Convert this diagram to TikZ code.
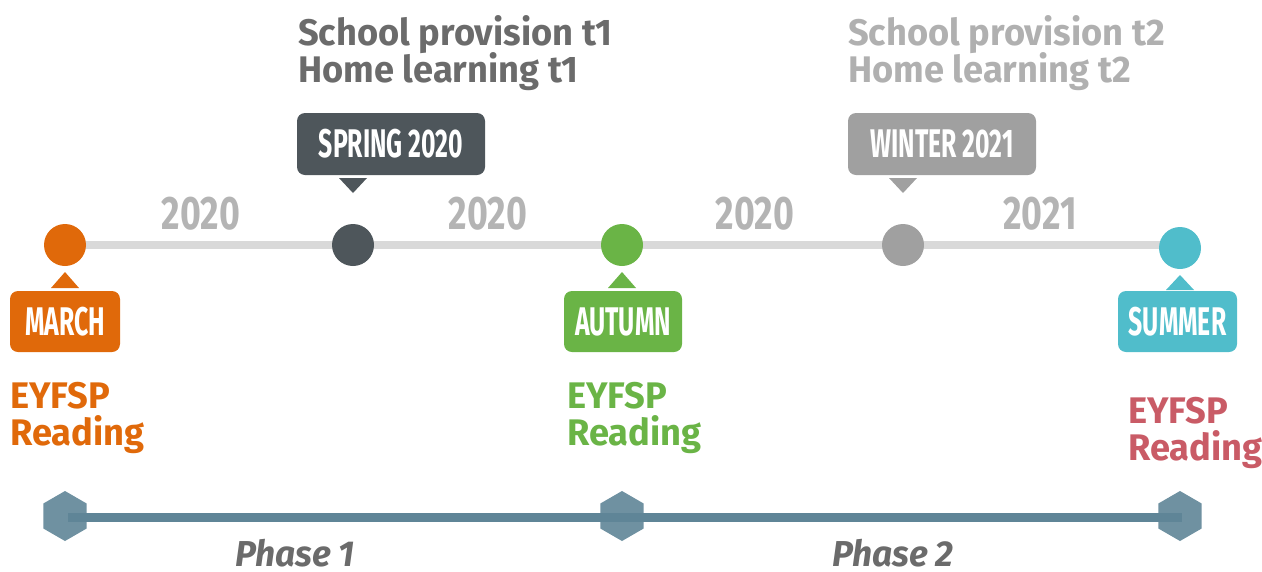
\documentclass[tikz,border=0pt]{standalone}
\usepackage{fontspec}
\setmainfont{Fira Sans}
\newfontfamily\condfont[FakeStretch=0.98]{Fira Sans}
\newfontfamily\bebasfont[FakeStretch=0.62]{Fira Sans}
\newfontfamily\yearfont[FakeStretch=0.76]{Fira Sans}
\usetikzlibrary{shapes.geometric}
\definecolor{corange}{HTML}{E0690A}
\definecolor{cdark}{HTML}{4E565B}
\definecolor{cgreen}{HTML}{6AB446}
\definecolor{cgray}{HTML}{A0A0A0}
\definecolor{ccyan}{HTML}{50BDCB}
\definecolor{cred}{HTML}{C95B66}
\definecolor{ctext}{HTML}{6B6B6B}
\definecolor{clighttext}{HTML}{B0B0B0}
\definecolor{cyear}{HTML}{B4B4B4}
\definecolor{cline}{HTML}{D9D9D9}
\definecolor{cblue}{HTML}{5F8597}
\tikzset{
  dot/.style={circle,minimum size=42pt,inner sep=0pt,fill=#1},
  tag/.style={rounded corners=8pt,minimum height=61pt,inner sep=0pt,fill=#1,text=white,
    font=\bebasfont\bfseries\fontsize{40}{40}\selectfont},
  year/.style={text=cyear,font=\yearfont\bfseries\fontsize{47}{47}\selectfont},
  info/.style={anchor=base west,inner sep=0pt,
    font=\condfont\bfseries\fontsize{37}{37}\selectfont},
  hexa/.style={regular polygon,regular polygon sides=6,shape border rotate=30,
    minimum size=50pt,inner sep=0pt,fill=cblue,fill opacity=0.9},
  phase/.style={anchor=base,inner sep=0pt,text=ctext,
    font=\condfont\bfseries\itshape\fontsize{36}{36}\selectfont},
}
\begin{document}
\begin{tikzpicture}[x=1pt,y=-1pt]
\useasboundingbox (0,0) rectangle (1262,571);
% main timeline
\coordinate (l0) at (65,245);
\coordinate (l1) at (1180,245);
\draw[cline,line width=8pt] (l0) -- (l1);
% year labels
\node[year] (y1) at (201,214) {2020};
\node[year] (y2) at (488,214) {2020};
\node[year] (y3) at (755,214) {2020};
\node[year] (y4) at (1040,214) {2021};
% dots
\node[dot=corange] (d1) at (65,245) {};
\node[dot=cdark] (d2) at (353,245) {};
\node[dot=cgreen] (d3) at (622,245) {};
\node[dot=cgray] (d4) at (903,245) {};
\node[dot=ccyan] (d5) at (1180,248) {};
% lower tags
\node[tag=corange,minimum width=110pt] (t1) at (65,321.5) {MARCH};
\node[tag=cgreen,minimum width=118pt] (t3) at (623,321.5) {AUTUMN};
\node[tag=ccyan,minimum width=119pt] (t5) at (1177.5,321.5) {SUMMER};
\fill[corange] (51,288) -- (65,272) -- (79,288) -- cycle;
\fill[cgreen] (608,288) -- (622,272) -- (636,288) -- cycle;
\fill[ccyan] (1166,290) -- (1180,275) -- (1194,290) -- cycle;
% upper tags
\node[tag=cdark,minimum width=188pt,minimum height=62pt] (t2) at (391,144) {SPRING 2020};
\node[tag=cgray,minimum width=188pt,minimum height=62pt] (t4) at (942,144) {WINTER 2021};
\fill[cdark] (339,178) -- (367,178) -- (353,193) -- cycle;
\fill[cgray] (889,178) -- (917,178) -- (903,193) -- cycle;
% info texts
\node[info,text=ctext] (s1a) at (298,45) {School provision t1};
\node[info,text=ctext] (s1b) at (298,82) {Home learning t1};
\node[info,text=clighttext] (s2a) at (848,45) {School provision t2};
\node[info,text=clighttext] (s2b) at (848,82) {Home learning t2};
\node[info,text=corange] (e1a) at (10,408) {EYFSP};
\node[info,text=corange] (e1b) at (10,445) {Reading};
\node[info,text=cgreen] (e2a) at (567,408) {EYFSP};
\node[info,text=cgreen] (e2b) at (567,445) {Reading};
\node[info,text=cred] (e3a) at (1128,423) {EYFSP};
\node[info,text=cred] (e3b) at (1128,460) {Reading};
% phase line
\coordinate (p0) at (68,517);
\coordinate (p1) at (1182,517);
\draw[cblue,line width=9pt] (p0) -- (p1);
\node[hexa] (h1) at (65,516) {};
\node[hexa] (h2) at (622,516) {};
\node[hexa] (h3) at (1180,516) {};
\node[phase] (ph1) at (295,566) {Phase 1};
\node[phase] (ph2) at (893,566) {Phase 2};
\end{tikzpicture}
\end{document}
